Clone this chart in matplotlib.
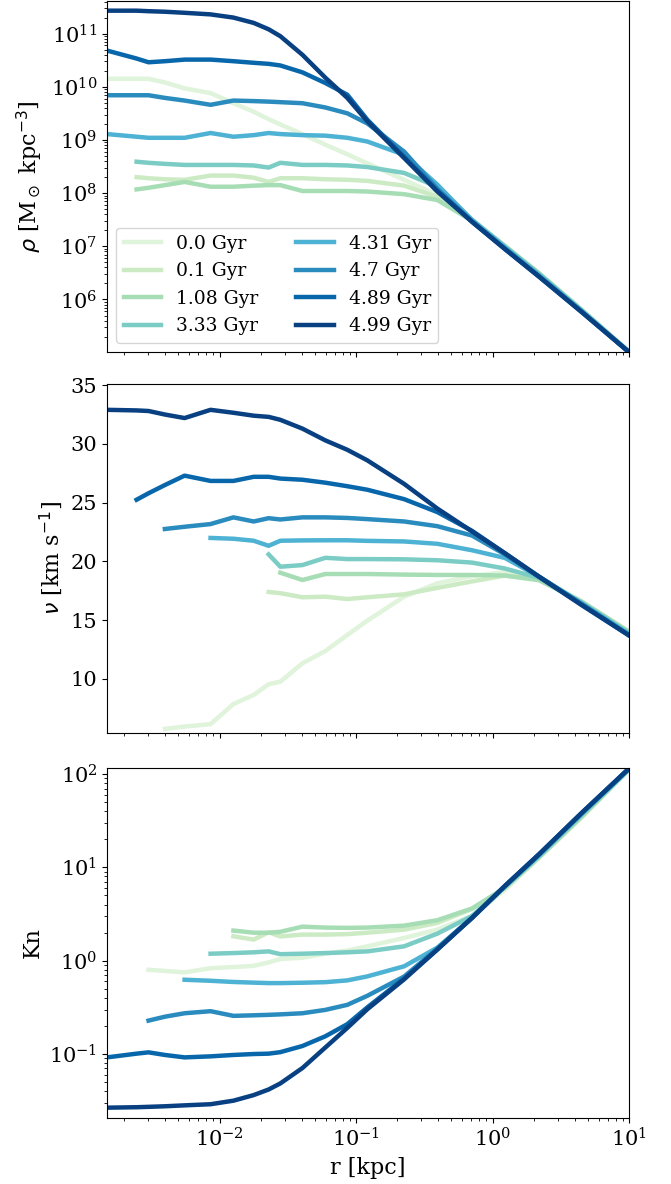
import numpy as np
import matplotlib
matplotlib.use("Agg")
import matplotlib.pyplot as plt
from matplotlib.ticker import LogLocator

nan = np.nan

# radial bin centres [kpc]
r_kpc = [0.0015, 0.00247, 0.00302, 0.00398, 0.00555, 0.0086, 0.01265, 0.0178,
         0.0229, 0.0279, 0.0405, 0.0596, 0.0863, 0.121, 0.225, 0.394, 0.708,
         1.23, 2.19, 4.47, 10.0]

snap_labels = ["0.0 Gyr", "0.1 Gyr", "1.08 Gyr", "3.33 Gyr",
               "4.31 Gyr", "4.7 Gyr", "4.89 Gyr", "4.99 Gyr"]

# log10 density [Msun kpc^-3], empty inner bins are nan
log_rho_000 = [10.15, 10.15, 10.15, 10.08, 9.97, 9.88, 9.69, 9.53, 9.39, 9.29, 9.11, 8.91, 8.73, 8.56, 8.25, 7.97, 7.49, 7.01, 6.50, 5.81, 5.02]
log_rho_010 = [nan, 8.30, 8.28, 8.26, 8.25, 8.33, 8.33, 8.29, 8.21, 8.28, 8.28, 8.26, 8.25, 8.23, 8.14, 7.93, 7.50, 7.01, 6.49, 5.81, 5.02]
log_rho_108 = [nan, 8.07, 8.10, 8.15, 8.21, 8.12, 8.12, 8.14, 8.15, 8.15, 8.04, 8.04, 8.04, 8.03, 7.98, 7.87, 7.48, 7.00, 6.49, 5.81, 5.02]
log_rho_333 = [nan, 8.59, 8.57, 8.55, 8.53, 8.53, 8.53, 8.52, 8.48, 8.57, 8.53, 8.53, 8.52, 8.49, 8.38, 8.12, 7.50, 7.00, 6.48, 5.80, 5.01]
log_rho_431 = [9.11, 9.06, 9.04, 9.04, 9.04, 9.13, 9.06, 9.09, 9.13, 9.11, 9.09, 9.08, 9.04, 8.97, 8.72, 8.16, 7.49, 6.98, 6.46, 5.79, 5.01]
log_rho_470 = [9.84, 9.84, 9.84, 9.79, 9.74, 9.66, 9.74, 9.73, 9.72, 9.71, 9.69, 9.61, 9.50, 9.31, 8.78, 8.08, 7.47, 6.96, 6.44, 5.78, 5.01]
log_rho_489 = [10.68, 10.53, 10.46, 10.48, 10.51, 10.51, 10.48, 10.45, 10.43, 10.40, 10.27, 10.07, 9.85, 9.38, 8.68, 8.05, 7.46, 6.95, 6.43, 5.77, 5.01]
log_rho_499 = [11.43, 11.43, 11.42, 11.41, 11.39, 11.36, 11.30, 11.20, 11.08, 10.95, 10.60, 10.17, 9.79, 9.35, 8.66, 8.03, 7.46, 6.95, 6.43, 5.77, 5.01]

# velocity dispersion [km/s]
v_000 = [nan, nan, nan, 5.75, 5.95, 6.15, 7.87, 8.64, 9.55, 9.77, 11.33, 12.38, 13.74, 14.96, 17.0, 18.14, 18.75, 19.1, 18.7, 16.6, 14.05]
v_010 = [nan, nan, nan, nan, nan, nan, nan, nan, 17.4, 17.3, 16.95, 17.0, 16.8, 16.95, 17.2, 17.75, 18.3, 18.8, 18.5, 16.6, 14.0]
v_108 = [nan, nan, nan, nan, nan, nan, nan, nan, nan, 19.04, 18.42, 18.93, 18.93, 18.93, 18.88, 18.85, 18.85, 18.8, 18.4, 16.6, 14.0]
v_333 = [nan, nan, nan, nan, nan, nan, nan, nan, 20.6, 19.55, 19.69, 20.31, 20.2, 20.2, 20.18, 20.1, 19.9, 19.4, 18.6, 16.5, 13.9]
v_431 = [nan, nan, nan, nan, nan, 22.0, 21.93, 21.76, 21.33, 21.76, 21.79, 21.8, 21.8, 21.75, 21.7, 21.5, 20.95, 20.3, 18.7, 16.45, 13.8]
v_470 = [nan, nan, nan, 22.76, 22.95, 23.18, 23.75, 23.4, 23.68, 23.57, 23.75, 23.75, 23.7, 23.6, 23.4, 23.0, 22.2, 20.6, 18.7, 16.4, 13.75]
v_489 = [nan, 25.25, 25.8, 26.5, 27.3, 26.85, 26.85, 27.2, 27.2, 27.05, 26.95, 26.7, 26.4, 26.1, 25.3, 24.2, 22.6, 20.7, 18.7, 16.35, 13.7]
v_499 = [32.9, 32.85, 32.8, 32.5, 32.2, 32.9, 32.65, 32.4, 32.3, 32.05, 31.3, 30.3, 29.5, 28.6, 26.6, 24.5, 22.55, 20.7, 18.7, 16.3, 13.7]

# log10 Knudsen number
log_kn_000 = [nan, nan, -0.097, -0.11, -0.125, -0.08, -0.068, -0.055, -0.018, 0.018, 0.032, 0.075, 0.11, 0.154, 0.244, 0.333, 0.48, 0.76, 1.10, 1.53, 2.05]
log_kn_010 = [nan, nan, nan, nan, nan, nan, 0.262, 0.226, 0.305, 0.26, 0.28, 0.28, 0.285, 0.30, 0.333, 0.405, 0.555, 0.78, 1.11, 1.54, 2.05]
log_kn_108 = [nan, nan, nan, nan, nan, nan, 0.323, 0.30, 0.30, 0.31, 0.365, 0.355, 0.352, 0.355, 0.376, 0.434, 0.56, 0.78, 1.11, 1.54, 2.05]
log_kn_333 = [nan, nan, nan, nan, nan, 0.075, 0.082, 0.09, 0.10, 0.07, 0.075, 0.082, 0.09, 0.10, 0.154, 0.29, 0.48, 0.79, 1.12, 1.56, 2.05]
log_kn_431 = [nan, nan, nan, nan, -0.204, -0.215, -0.228, -0.235, -0.24, -0.24, -0.236, -0.23, -0.211, -0.168, -0.06, 0.14, 0.46, 0.795, 1.13, 1.57, 2.055]
log_kn_470 = [nan, nan, -0.642, -0.60, -0.563, -0.541, -0.591, -0.585, -0.58, -0.575, -0.563, -0.527, -0.473, -0.376, -0.17, 0.13, 0.46, 0.80, 1.14, 1.575, 2.06]
log_kn_489 = [-1.036, -0.996, -0.982, -1.01, -1.036, -1.025, -1.01, -1.0, -0.996, -0.98, -0.914, -0.81, -0.68, -0.50, -0.19, 0.12, 0.46, 0.80, 1.14, 1.58, 2.06]
log_kn_499 = [-1.575, -1.57, -1.566, -1.56, -1.55, -1.538, -1.50, -1.44, -1.38, -1.315, -1.15, -0.93, -0.72, -0.52, -0.20, 0.12, 0.46, 0.80, 1.14, 1.58, 2.06]

rho_snaps = [log_rho_000, log_rho_010, log_rho_108, log_rho_333,
             log_rho_431, log_rho_470, log_rho_489, log_rho_499]
v_snaps = [v_000, v_010, v_108, v_333, v_431, v_470, v_489, v_499]
kn_snaps = [log_kn_000, log_kn_010, log_kn_108, log_kn_333,
            log_kn_431, log_kn_470, log_kn_489, log_kn_499]

plt.rcParams['font.family'] = 'DejaVu Serif'
plt.rcParams['font.size'] = 15

colors = plt.get_cmap('GnBu')(np.linspace(0.125, 1.0, len(snap_labels)))
r = np.array(r_kpc)

fig = plt.figure(figsize=(6.71, 11.84), dpi=100)
left, width = 0.1595, 0.778
ax1 = fig.add_axes([left, 0.7027, width, 0.2965])
ax2 = fig.add_axes([left, 0.3809, width, 0.2948], sharex=ax1)
ax3 = fig.add_axes([left, 0.0557, width, 0.2956], sharex=ax1)

for i, lab in enumerate(snap_labels):
    ax1.plot(r, 10 ** np.array(rho_snaps[i]), color=colors[i], lw=3.2, label=lab)
    ax2.plot(r, v_snaps[i], color=colors[i], lw=3.2)
    ax3.plot(r, 10 ** np.array(kn_snaps[i]), color=colors[i], lw=3.2)

ax1.set_xscale('log')
ax1.set_xlim(1.5e-3, 10)

ax1.set_yscale('log')
ax1.set_ylim(1.03e5, 4.1e11)
ax1.yaxis.set_major_locator(LogLocator(base=10, numticks=15))
ax1.yaxis.set_minor_locator(LogLocator(base=10, subs=np.arange(2, 10), numticks=15))
ax1.set_ylabel(r'$\rho$ [M$_\odot$ kpc$^{-3}$]', fontsize=16)
ax1.legend(loc='lower left', ncol=2, fontsize=13.5)

ax2.set_ylim(5.4, 35.1)
ax2.set_ylabel(r'$\nu$ [km s$^{-1}$]', fontsize=16)

ax3.set_yscale('log')
ax3.set_ylim(0.0206, 116)
ax3.set_ylabel('Kn', fontsize=16)
ax3.set_xlabel('r [kpc]', fontsize=16)

for ax in (ax1, ax2):
    ax.tick_params(labelbottom=False)

fig.savefig('out.png', dpi=100)
